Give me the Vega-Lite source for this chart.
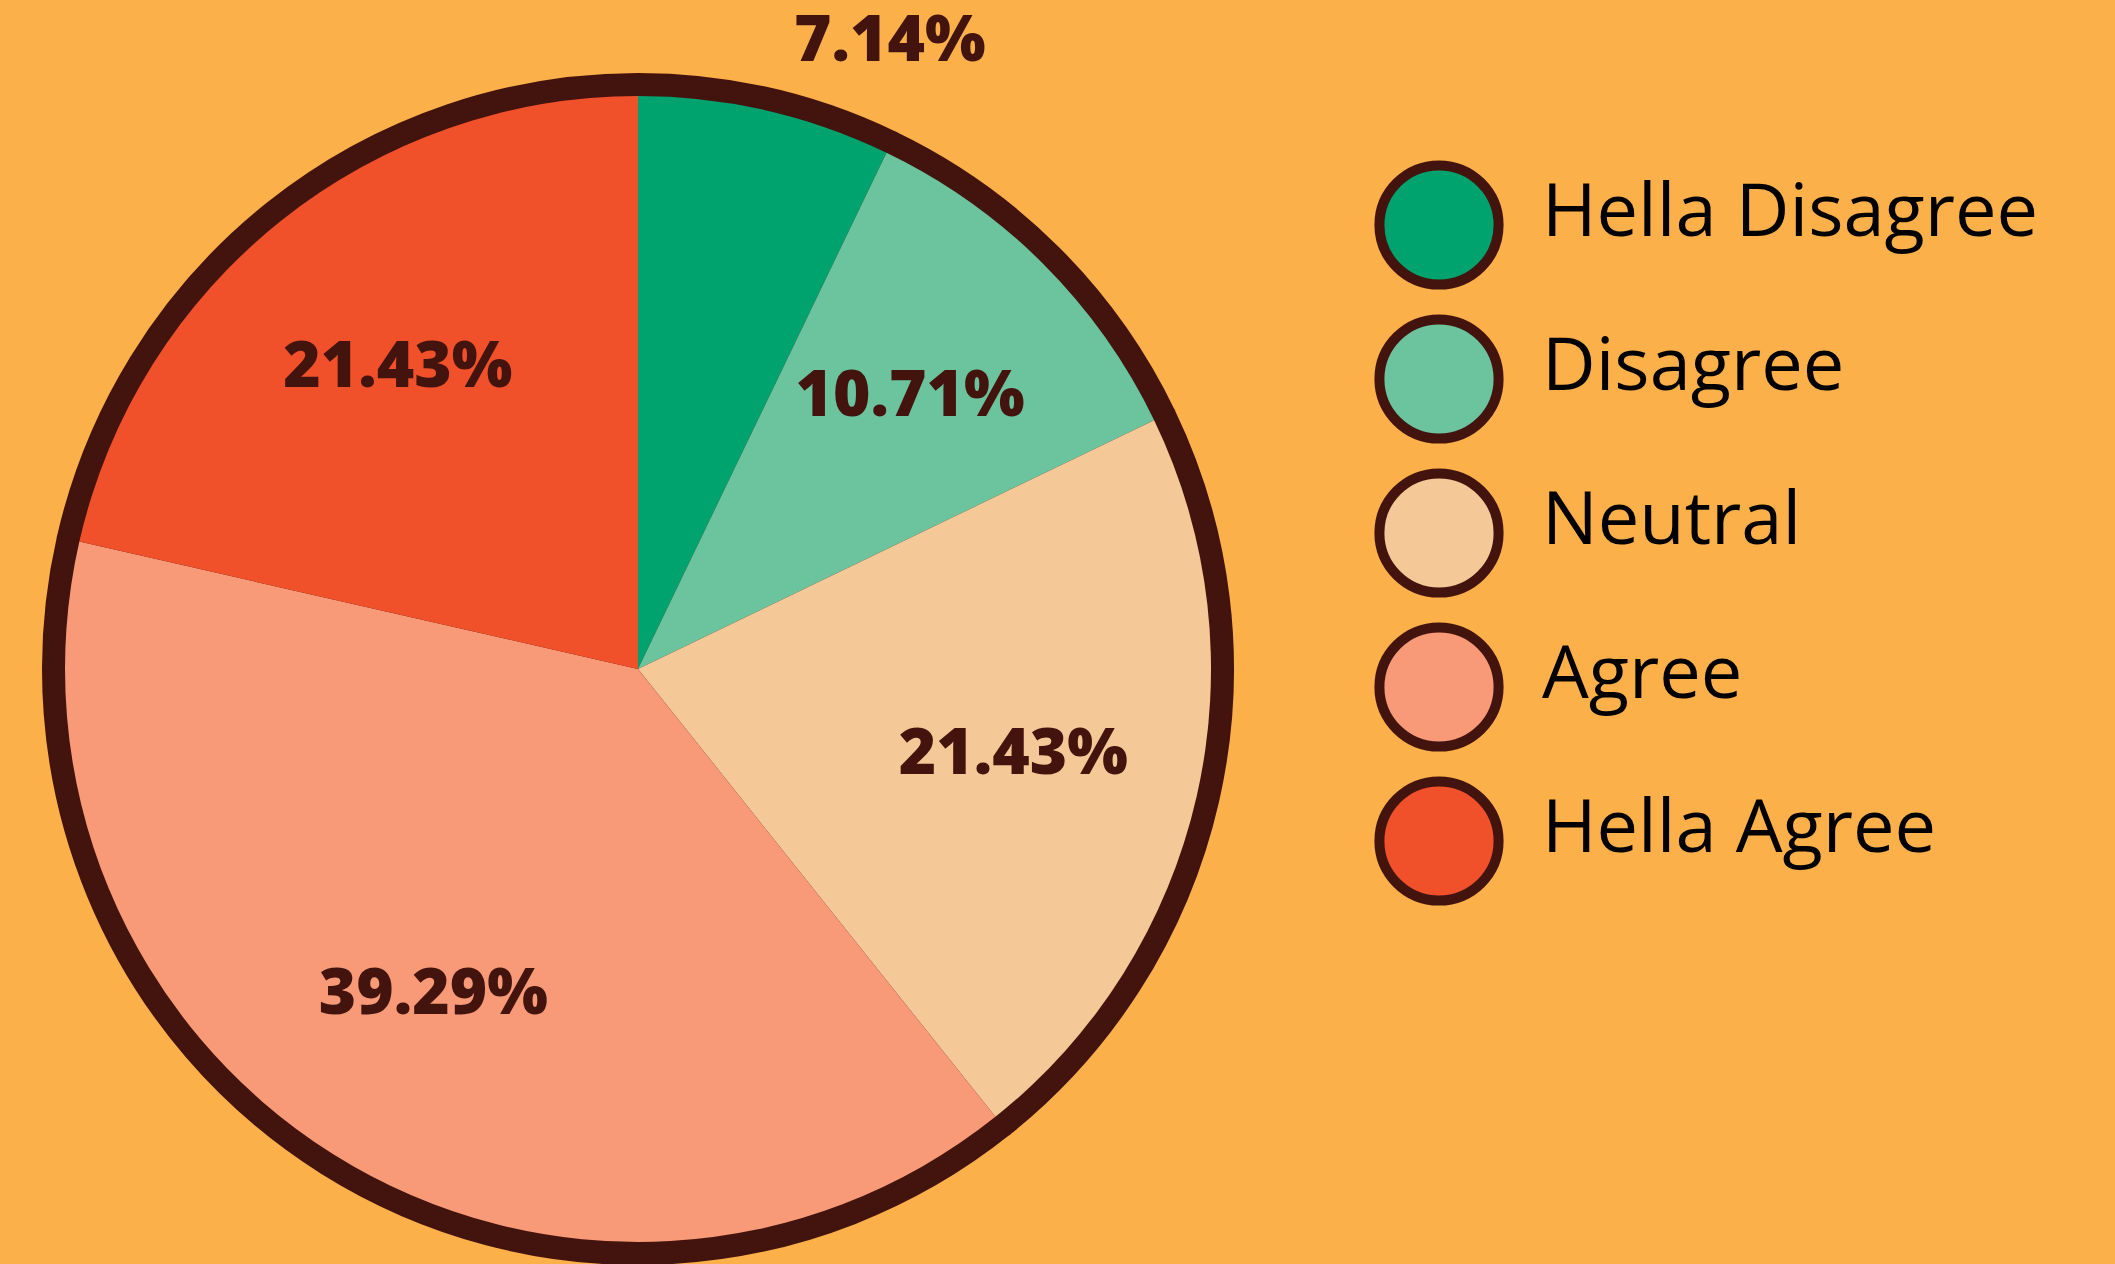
{
  "$schema": "https://vega.github.io/schema/vega-lite/v6.json",
  "width": 1276,
  "height": 1190,
  "autosize": "none",
  "padding": {"left": 0, "top": 74, "right": 839, "bottom": 0},
  "background": "#FBB04A",
  "config": {"view": {"stroke": null}},
  "data": {
    "values": [
      {"answer": "Hella Disagree", "pct": 7.14, "label": "7.14%", "rank": 1},
      {"answer": "Disagree", "pct": 10.71, "label": "10.71%", "rank": 2},
      {"answer": "Neutral", "pct": 21.43, "label": "21.43%", "rank": 3},
      {"answer": "Agree", "pct": 39.29, "label": "39.29%", "rank": 4},
      {"answer": "Hella Agree", "pct": 21.43, "label": "21.43%", "rank": 5}
    ]
  },
  "encoding": {
    "theta": {"field": "pct", "type": "quantitative", "stack": true},
    "order": {"field": "rank", "type": "quantitative"},
    "color": {
      "field": "answer",
      "type": "nominal",
      "scale": {
        "domain": ["Hella Disagree", "Disagree", "Neutral", "Agree", "Hella Agree"],
        "range": ["#00A36E", "#6CC49E", "#F4C997", "#F89A77", "#F0502A"]
      },
      "legend": {
        "title": null,
        "orient": "none",
        "legendX": 1374,
        "legendY": 86,
        "symbolType": "circle",
        "symbolSize": 14200,
        "symbolStrokeWidth": 10,
        "symbolStrokeColor": "#43130E",
        "symbolOpacity": 1,
        "labelFont": "Open Sans",
        "labelFontSize": 74,
        "labelColor": "#000000",
        "labelOffset": 38,
        "labelLimit": 0,
        "rowPadding": -6,
        "encode": {"labels": {"update": {"dy": {"value": -11}}}}
      }
    }
  },
  "layer": [
    {
      "mark": {"type": "arc", "outerRadius": 595, "fill": "#43130E", "stroke": "#43130E", "strokeWidth": 2},
      "encoding": {"color": {"value": "#43130E"}}
    },
    {
      "mark": {"type": "arc", "outerRadius": 573, "opacity": 1}
    },
    {
      "mark": {"type": "text", "radius": 385, "font": "Open Sans", "fontWeight": 800, "fontSize": 64},
      "encoding": {
        "color": {"value": "#43130E"},
        "text": {"field": "label", "type": "nominal", "condition": {"test": "datum.answer === 'Hella Disagree'", "value": ""}}
      }
    },
    {
      "mark": {"type": "text", "radius": 665, "align": "left", "dx": 8, "dy": 21, "font": "Open Sans", "fontWeight": 800, "fontSize": 64},
      "encoding": {
        "color": {"value": "#43130E"},
        "text": {"condition": {"test": "datum.answer === 'Hella Disagree'", "field": "label", "type": "nominal"}, "value": ""}
      }
    }
  ]
}
